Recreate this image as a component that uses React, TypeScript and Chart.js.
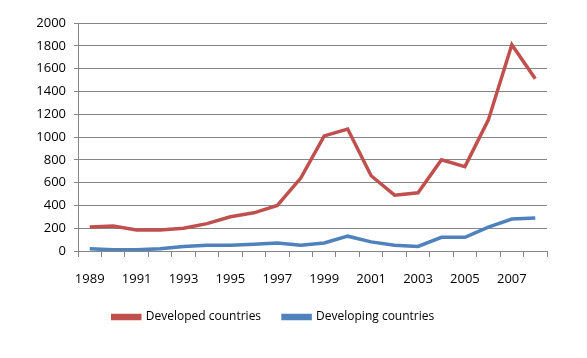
import React, { useEffect, useRef } from "react";
import { Chart, registerables } from "chart.js";

Chart.register(...registerables);

const years = ["1989","1990","1991","1992","1993","1994","1995","1996","1997","1998","1999","2000","2001","2002","2003","2004","2005","2006","2007","2008"];
const developed = [210, 220, 185, 185, 200, 240, 300, 335, 400, 640, 1010, 1070, 660, 490, 510, 800, 740, 1150, 1810, 1510];
const developing = [20, 10, 10, 20, 40, 50, 50, 60, 70, 50, 70, 130, 80, 50, 40, 120, 120, 210, 280, 290];

const FONT = "'Open Sans', sans-serif";

export default function App() {
  const ref = useRef<HTMLCanvasElement>(null);
  useEffect(() => {
    if (!ref.current) return;
    const chart = new Chart(ref.current, {
      type: "line",
      data: {
        labels: years,
        datasets: [
          { label: "Developed countries", data: developed, borderColor: "#C0504D", backgroundColor: "#C0504D", borderWidth: 3.5, pointRadius: 0, tension: 0 },
          { label: "Developing countries", data: developing, borderColor: "#4F81BD", backgroundColor: "#4F81BD", borderWidth: 3.5, pointRadius: 0, tension: 0 },
        ],
      },
      options: {
        animation: false,
        responsive: false,
        maintainAspectRatio: false,
        layout: { padding: { top: 23, right: 40, left: 0, bottom: 25 } },
        plugins: {
          tooltip: { enabled: false },
          legend: {
            position: "bottom",
            labels: { boxWidth: 27, boxHeight: 3, font: { family: FONT, size: 12 }, color: "#000", padding: 22 },
          },
        },
        scales: {
          x: {
            offset: true,
            grid: { offset: true, drawOnChartArea: false, drawTicks: true, tickLength: 6, color: "#868686" },
            border: { color: "#868686", width: 1 },
            ticks: {
              autoSkip: false,
              maxRotation: 0,
              color: "#000",
              font: { family: FONT, size: 13 },
              padding: 14,
              callback: (v: any, i: number) => (i % 2 === 0 ? years[i] : ""),
            },
            afterFit: (s: any) => { s.height = 38; },
          },
          y: {
            min: 0,
            max: 2000,
            ticks: { stepSize: 200, color: "#000", font: { family: FONT, size: 13 }, padding: 8, callback: (v: any) => String(v) },
            grid: { color: "#868686", tickLength: 4 },
            border: { color: "#868686", width: 1 },
            afterFit: (s: any) => { s.width = 78; },
          },
        },
      },
    });
    return () => chart.destroy();
  }, []);
  return (
    <div style={{ position: "fixed", left: 0, top: 0, width: 587, height: 358, background: "#fff" }}>
      <canvas ref={ref} width={587} height={358} />
    </div>
  );
}
